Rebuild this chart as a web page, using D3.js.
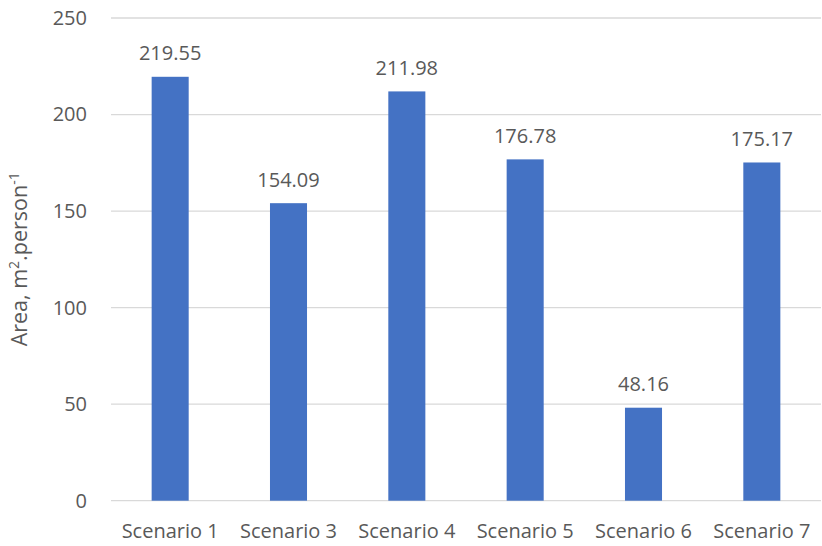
<!DOCTYPE html>
<html>
<head>
<meta charset="utf-8">
<script src="https://cdn.jsdelivr.net/npm/d3@7"></script>
<style>
  html, body { margin: 0; padding: 0; background: #fff; }
  text { font-family: "Open Sans", "Noto Sans", sans-serif; fill: #595959; }
</style>
</head>
<body>
<svg id="chart" width="822" height="546"></svg>
<script>
// Per-capita area for each scenario
const categories = ["Scenario 1", "Scenario 3", "Scenario 4", "Scenario 5", "Scenario 6", "Scenario 7"];
const values = [219.55, 154.09, 211.98, 176.78, 48.16, 175.17];
const yTicks = [0, 50, 100, 150, 200, 250];

const svg = d3.select("#chart");
const margin = { top: 18, right: 1, bottom: 45.3, left: 111 };
const W = 822, H = 546;
const FONT = "'Open Sans', 'Noto Sans', sans-serif";

const x = d3.scaleBand()
  .domain(categories)
  .range([margin.left, W - margin.right])
  .paddingInner(0.687)
  .paddingOuter(0.3435);

const y = d3.scaleLinear()
  .domain([0, 250])
  .range([H - margin.bottom, margin.top]);

// Horizontal gridlines
svg.append("g")
  .selectAll("line")
  .data(yTicks)
  .join("line")
  .attr("x1", margin.left)
  .attr("x2", W - margin.right)
  .attr("y1", d => y(d))
  .attr("y2", d => y(d))
  .attr("stroke", "#d9d9d9")
  .attr("stroke-width", 1.3);

// Y axis tick labels
const yAxis = d3.axisLeft(y).tickValues(yTicks).tickSize(0).tickPadding(24);
const gy = svg.append("g").attr("transform", `translate(${margin.left},0)`).call(yAxis);
gy.select(".domain").remove();
gy.selectAll("text")
  .style("font-family", FONT)
  .style("font-size", "20px")
  .attr("fill", "#595959");

// Bars
svg.append("g")
  .selectAll("rect")
  .data(values)
  .join("rect")
  .attr("x", (d, i) => x(categories[i]))
  .attr("width", x.bandwidth())
  .attr("y", d => y(d))
  .attr("height", d => y(0) - y(d))
  .attr("fill", "#4472c4");

// Value labels above bars
svg.append("g")
  .selectAll("text")
  .data(values)
  .join("text")
  .attr("x", (d, i) => x(categories[i]) + x.bandwidth() / 2)
  .attr("y", d => y(d) - 16.5)
  .attr("text-anchor", "middle")
  .style("font-size", "20px")
  .attr("fill", "#404040")
  .text(d => d.toFixed(2));

// Category labels
const xAxis = d3.axisBottom(x).tickSize(0).tickPadding(23);
const gx = svg.append("g").attr("transform", `translate(0,${y(0)})`).call(xAxis);
gx.select(".domain").remove();
gx.selectAll("text")
  .style("font-family", FONT)
  .style("font-size", "20px")
  .attr("fill", "#595959");

// Y axis title
const title = svg.append("text")
  .attr("transform", `translate(27,${(y(0) + y(250)) / 2}) rotate(-90)`)
  .attr("text-anchor", "middle")
  .style("font-size", "21.5px")
  .attr("fill", "#595959");
title.append("tspan").text("Area, m");
title.append("tspan").attr("dy", -8).style("font-size", "14px").text("2");
title.append("tspan").attr("dy", 8).text(".person");
title.append("tspan").attr("dy", -8).style("font-size", "14px").text("-1");
</script>
</body>
</html>
